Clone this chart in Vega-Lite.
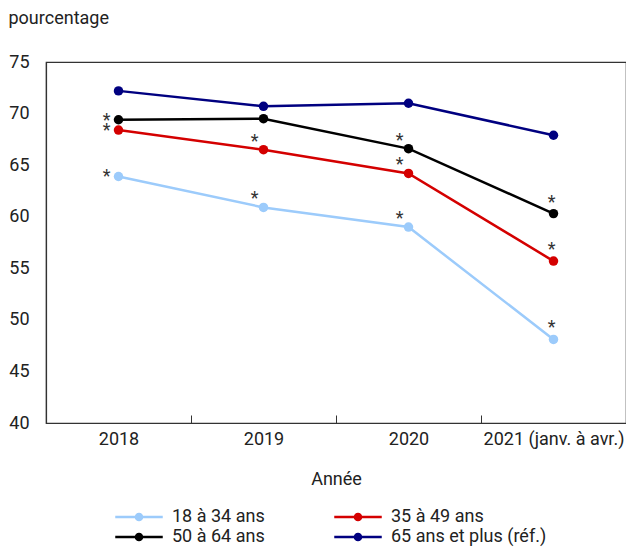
{
  "$schema": "https://vega.github.io/schema/vega-lite/v6.json",
  "width": 580,
  "height": 361,
  "autosize": "none",
  "padding": {"left": 46, "top": 62, "right": 0, "bottom": 127},
  "background": "white",
  "config": {
    "font": "Roboto",
    "view": {"stroke": "#333", "strokeWidth": 1.2},
    "axis": {"labelFont": "Roboto", "titleFont": "Roboto", "labelFontSize": 18, "titleFontSize": 18, "labelColor": "#222", "titleColor": "#222", "titleFontWeight": "normal", "domainColor": "#333", "tickColor": "#333", "grid": false},
    "legend": {"labelFont": "Roboto", "labelFontSize": 18, "labelColor": "#222"}
  },
  "data": {
    "values": [
      {"group": "18 à 34 ans", "year": "2018", "value": 63.9, "sig": "*"},
      {"group": "18 à 34 ans", "year": "2019", "value": 60.9, "sig": "*"},
      {"group": "18 à 34 ans", "year": "2020", "value": 59.0, "sig": "*"},
      {"group": "18 à 34 ans", "year": "2021 (janv. à avr.)", "value": 48.1, "sig": "*"},
      {"group": "35 à 49 ans", "year": "2018", "value": 68.4, "sig": "*"},
      {"group": "35 à 49 ans", "year": "2019", "value": 66.5, "sig": "*"},
      {"group": "35 à 49 ans", "year": "2020", "value": 64.2, "sig": "*"},
      {"group": "35 à 49 ans", "year": "2021 (janv. à avr.)", "value": 55.7, "sig": "*"},
      {"group": "50 à 64 ans", "year": "2018", "value": 69.4, "sig": "*"},
      {"group": "50 à 64 ans", "year": "2019", "value": 69.5, "sig": ""},
      {"group": "50 à 64 ans", "year": "2020", "value": 66.6, "sig": "*"},
      {"group": "50 à 64 ans", "year": "2021 (janv. à avr.)", "value": 60.3, "sig": "*"},
      {"group": "65 ans et plus (réf.)", "year": "2018", "value": 72.2, "sig": ""},
      {"group": "65 ans et plus (réf.)", "year": "2019", "value": 70.7, "sig": ""},
      {"group": "65 ans et plus (réf.)", "year": "2020", "value": 71.0, "sig": ""},
      {"group": "65 ans et plus (réf.)", "year": "2021 (janv. à avr.)", "value": 67.9, "sig": ""}
    ]
  },
  "encoding": {
    "x": {
      "field": "year", "type": "nominal",
      "sort": ["2018", "2019", "2020", "2021 (janv. à avr.)"],
      "scale": {"type": "band", "paddingInner": 0, "paddingOuter": 0},
      "axis": {"title": "Année", "labelAngle": 0, "tickBand": "extent", "tickSize": -8, "labelPadding": 15, "titlePadding": 22, "domainWidth": 1.2}
    },
    "y": {
      "field": "value", "type": "quantitative",
      "scale": {"domain": [40, 75], "nice": false, "zero": false},
      "axis": {"title": "pourcentage", "values": [40, 45, 50, 55, 60, 65, 70, 75], "ticks": false, "labelPadding": 17, "titleAngle": 0, "titleAlign": "left", "titleBaseline": "middle", "titleX": -38, "titleY": -44, "domainWidth": 1.2}
    },
    "color": {
      "field": "group", "type": "nominal",
      "scale": {"domain": ["18 à 34 ans", "50 à 64 ans", "35 à 49 ans", "65 ans et plus (réf.)"], "range": ["#9ccbfb", "#000000", "#d40000", "#000080"]},
      "legend": {
        "title": null, "orient": "none", "legendX": 82, "legendY": 444, "columns": 2,
        "symbolType": "M-2.5,0L2.5,0M-0.32,0A0.32,0.32 0 1,0 0.32,0A0.32,0.32 0 1,0 -0.32,0Z",
        "symbolSize": 361, "symbolStrokeWidth": 2.5, "labelOffset": 22, "columnPadding": 64, "rowPadding": 0,
        "encode": {"symbols": {"update": {"fill": {"scale": "color", "field": "value"}, "stroke": {"scale": "color", "field": "value"}, "opacity": {"value": 1}}}}
      }
    }
  },
  "layer": [
    {"mark": {"type": "line", "strokeWidth": 2.5}},
    {"mark": {"type": "point", "filled": true, "size": 90, "opacity": 1}},
    {
      "transform": [{"filter": "datum.year == '2018'"}],
      "mark": {"type": "text", "dx": -12, "dy": 1, "fontSize": 18, "baseline": "middle"},
      "encoding": {"text": {"field": "sig"}, "color": {"value": "#333"}}
    },
    {
      "transform": [{"filter": "datum.year == '2019' || datum.year == '2020'"}],
      "mark": {"type": "text", "dx": -9, "dy": -8, "fontSize": 18, "baseline": "middle"},
      "encoding": {"text": {"field": "sig"}, "color": {"value": "#333"}}
    },
    {
      "transform": [{"filter": "datum.year == '2021 (janv. à avr.)'"}],
      "mark": {"type": "text", "dx": -2, "dy": -11, "fontSize": 18, "baseline": "middle"},
      "encoding": {"text": {"field": "sig"}, "color": {"value": "#333"}}
    }
  ]
}
